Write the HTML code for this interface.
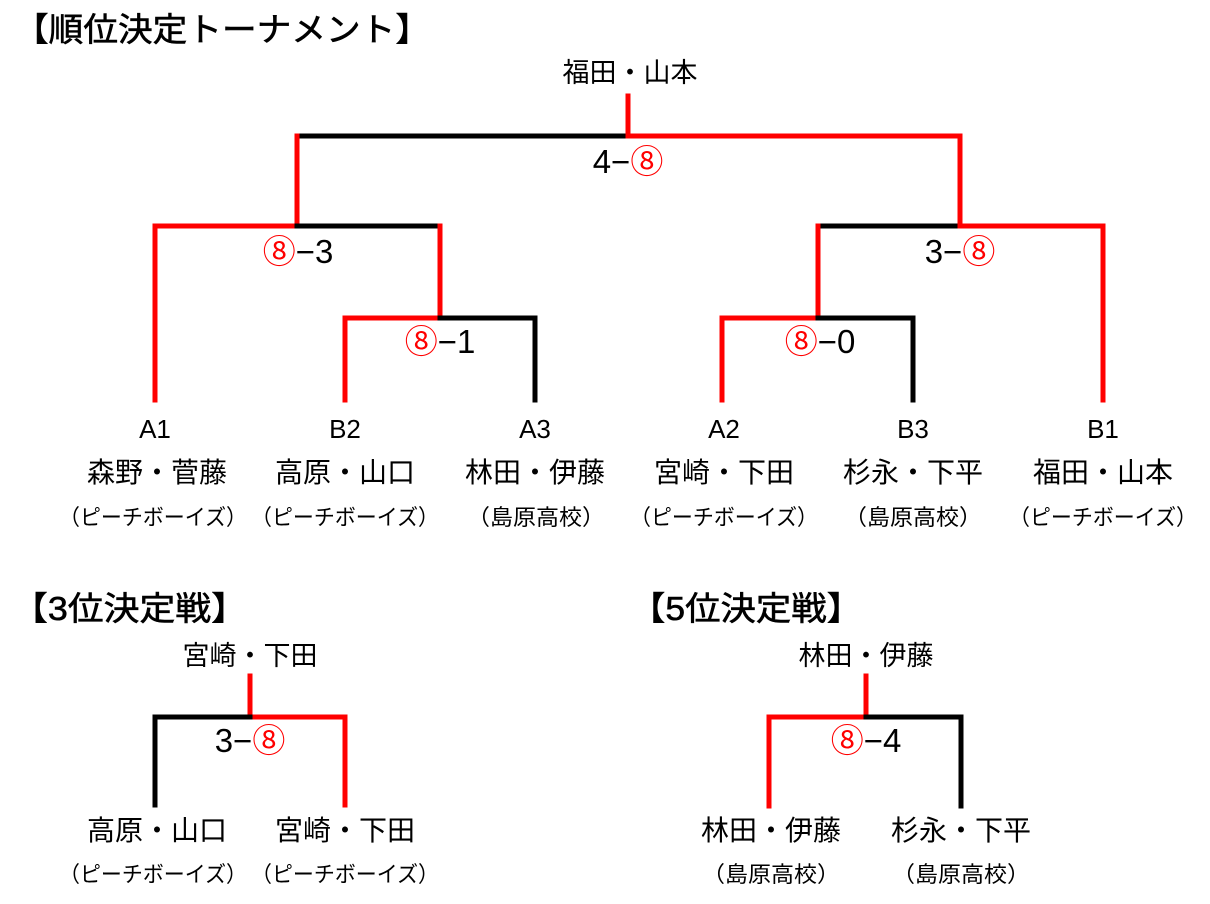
<!DOCTYPE html>
<html><head><meta charset="utf-8"><style>
html,body{margin:0;padding:0;background:#fff;}
svg text{font-family:"Liberation Sans","Noto Sans CJK JP",sans-serif;fill:#000;}
.r{fill:#ff0000 !important;}
</style></head><body>
<svg width="1210" height="899" viewBox="0 0 1210 899" xmlns="http://www.w3.org/2000/svg">
<g stroke-width="5" fill="none" stroke-linecap="square">
<path d="M628 96 V136" stroke="#f00"/>
<path d="M297 136 H628" stroke="#000"/>
<path d="M628 136 H960 V226" stroke="#f00"/>
<path d="M297 136 V226" stroke="#f00"/>
<path d="M155 400 V226 H297" stroke="#f00"/>
<path d="M297 226 H440" stroke="#000"/>
<path d="M440 226 V318 H345 V400" stroke="#f00"/>
<path d="M440 318 H535 V400" stroke="#000"/>
<path d="M818 318 V226 H960" stroke="#000"/>
<path d="M960 226 H1103 V400" stroke="#f00"/>
<path d="M818 226 V318 H722 V400" stroke="#f00"/>
<path d="M818 318 H913 V400" stroke="#000"/>
<path d="M250 676 V717 H345 V805" stroke="#f00"/>
<path d="M250 717 H155 V805" stroke="#000"/>
<path d="M866 676 V717 H769 V806" stroke="#f00"/>
<path d="M866 717 H961 V806" stroke="#000"/>
</g>
<g font-size="33" stroke="#000" stroke-width="0.6">
<text x="14" y="41" textLength="416" lengthAdjust="spacingAndGlyphs">【順位決定トーナメント】</text>
<text x="12" y="620" textLength="235" lengthAdjust="spacingAndGlyphs">【3位決定戦】</text>
<text x="630" y="620" textLength="232" lengthAdjust="spacingAndGlyphs">【5位決定戦】</text>
</g>
<g font-size="33" text-anchor="middle">
<text x="628" y="173"><tspan>4−</tspan><tspan class="r">⑧</tspan></text>
<text x="298" y="263"><tspan class="r">⑧</tspan><tspan>−3</tspan></text>
<text x="440" y="353"><tspan class="r">⑧</tspan><tspan>−1</tspan></text>
<text x="960" y="263"><tspan>3−</tspan><tspan class="r">⑧</tspan></text>
<text x="820" y="353"><tspan class="r">⑧</tspan><tspan>−0</tspan></text>
<text x="250" y="752"><tspan>3−</tspan><tspan class="r">⑧</tspan></text>
<text x="866" y="752"><tspan class="r">⑧</tspan><tspan>−4</tspan></text>
</g>
<g font-size="27" text-anchor="middle">
<text x="630" y="82">福田・山本</text>
<text x="250" y="665">宮崎・下田</text>
<text x="866" y="665">林田・伊藤</text>
</g>
<g font-size="26" text-anchor="middle">
<text x="155" y="438">A1</text><text x="345" y="438">B2</text><text x="535" y="438">A3</text>
<text x="724" y="438">A2</text><text x="913" y="438">B3</text><text x="1103" y="438">B1</text>
</g>
<g font-size="28" text-anchor="middle">
<text x="157" y="482">森野・菅藤</text><text x="345" y="482">高原・山口</text><text x="535" y="482">林田・伊藤</text>
<text x="724" y="482">宮崎・下田</text><text x="913" y="482">杉永・下平</text><text x="1103" y="482">福田・山本</text>
<text x="157" y="840">高原・山口</text><text x="345" y="840">宮崎・下田</text>
<text x="771" y="840">林田・伊藤</text><text x="961" y="840">杉永・下平</text>
</g>
<g font-size="22" text-anchor="middle">
<text x="153" y="525" textLength="188" lengthAdjust="spacingAndGlyphs">（ピーチボーイズ）</text>
<text x="345" y="525" textLength="188" lengthAdjust="spacingAndGlyphs">（ピーチボーイズ）</text>
<text x="536" y="525" textLength="138" lengthAdjust="spacingAndGlyphs">（島原高校）</text>
<text x="724" y="525" textLength="188" lengthAdjust="spacingAndGlyphs">（ピーチボーイズ）</text>
<text x="913" y="525" textLength="138" lengthAdjust="spacingAndGlyphs">（島原高校）</text>
<text x="1103" y="525" textLength="188" lengthAdjust="spacingAndGlyphs">（ピーチボーイズ）</text>
<text x="153" y="882" textLength="188" lengthAdjust="spacingAndGlyphs">（ピーチボーイズ）</text>
<text x="345" y="882" textLength="188" lengthAdjust="spacingAndGlyphs">（ピーチボーイズ）</text>
<text x="771" y="882" textLength="138" lengthAdjust="spacingAndGlyphs">（島原高校）</text>
<text x="961" y="882" textLength="138" lengthAdjust="spacingAndGlyphs">（島原高校）</text>
</g>
</svg>
</body></html>
